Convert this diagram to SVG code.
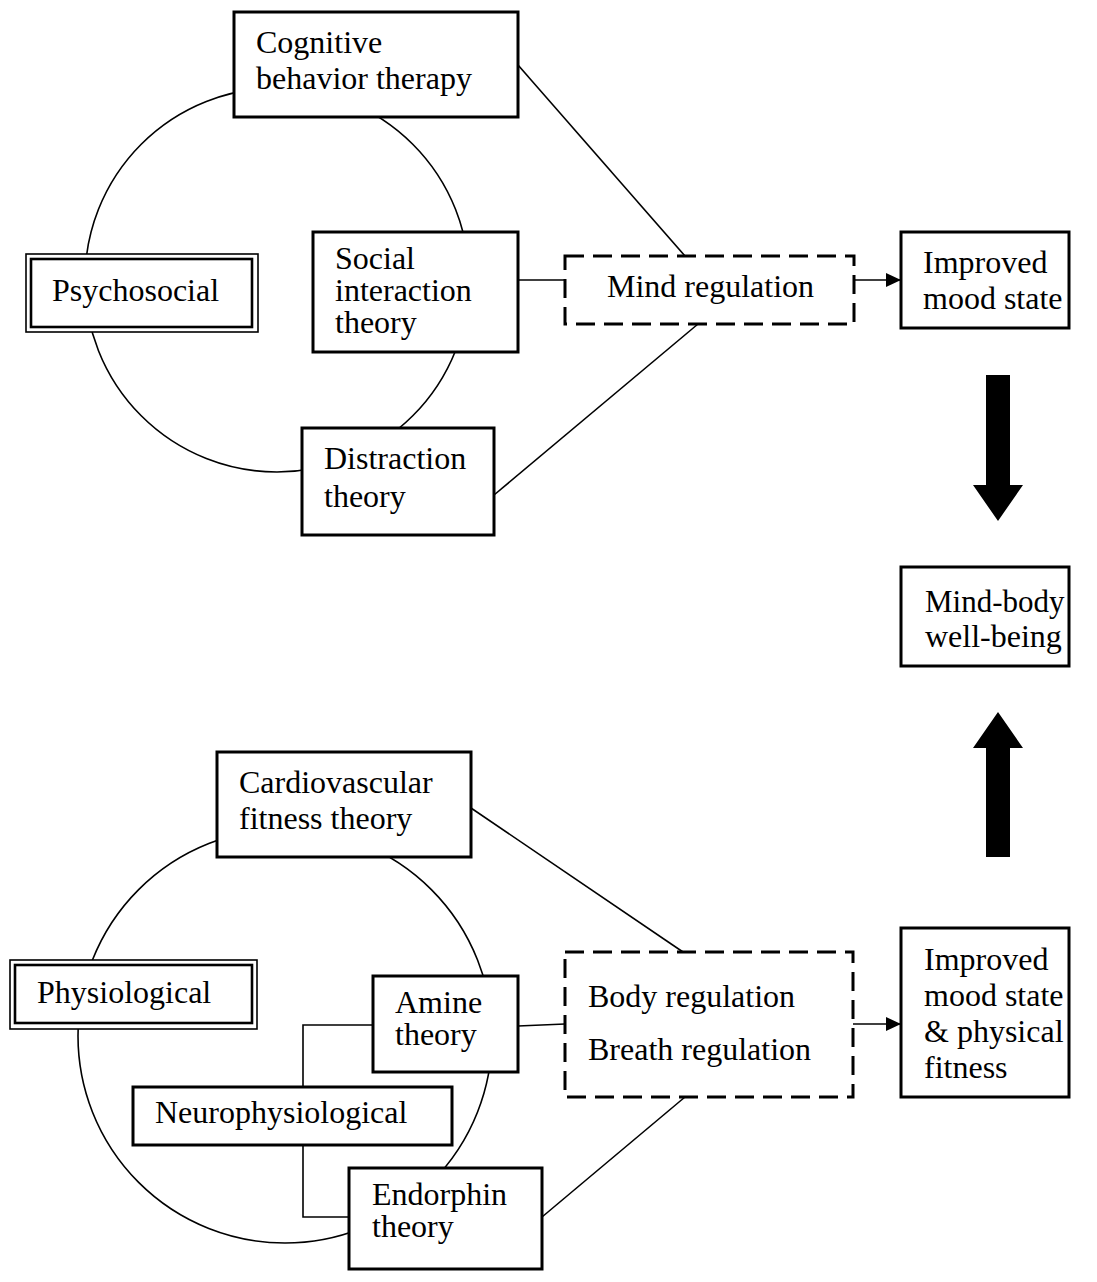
<svg xmlns="http://www.w3.org/2000/svg" width="1097" height="1282" viewBox="0 0 1097 1282">
<style>
text{font-family:"Liberation Serif","Times New Roman",serif;font-size:32px;fill:#000}
.box{fill:#fff;stroke:#000;stroke-width:3}
.dash{fill:#fff;stroke:#000;stroke-width:3;stroke-dasharray:19 9}
.ring{fill:none;stroke:#000;stroke-width:1.6}
.ln{fill:none;stroke:#000;stroke-width:1.6}
.outer{fill:#fff;stroke:#000;stroke-width:1.6}
.inner{fill:none;stroke:#000;stroke-width:2.6}
.fat{fill:#000}
</style>
<defs>
<marker id="ah" markerWidth="15" markerHeight="14" refX="15" refY="7" orient="auto" markerUnits="userSpaceOnUse">
<path d="M0,0 L15,7 L0,14 Z" fill="#000"/>
</marker>
</defs>
<g id="rings">
<circle class="ring" cx="277" cy="280" r="192"/>
<circle class="ring" cx="285" cy="1036" r="207"/>
</g>
<g id="connectors">
<line class="ln" x1="518" y1="65" x2="685" y2="256"/>
<line class="ln" x1="518" y1="280" x2="565" y2="280"/>
<line class="ln" x1="494" y1="495" x2="698" y2="324"/>
<line class="ln" x1="854" y1="280" x2="901" y2="280" marker-end="url(#ah)"/>
<line class="ln" x1="471" y1="808" x2="683" y2="952"/>
<line class="ln" x1="518" y1="1026" x2="565" y2="1024"/>
<line class="ln" x1="542" y1="1217" x2="685" y2="1097"/>
<line class="ln" x1="853" y1="1024" x2="901" y2="1024" marker-end="url(#ah)"/>
<polyline class="ln" points="373,1025 303,1025 303,1087"/>
<polyline class="ln" points="303,1145 303,1217 349,1217"/>
<path class="fat" d="M986,375 H1010 V485 H1023 L998,521 L973,485 H986 Z"/>
<path class="fat" d="M998,712 L1023,748 H1010 V857 H986 V748 H973 Z"/>
</g>
<g id="cognitive">
<rect class="box" x="234" y="12" width="284" height="105"/>
<text x="256" y="53">Cognitive</text>
<text x="256" y="89">behavior therapy</text>
</g>
<g id="psychosocial">
<rect class="outer" x="26" y="254" width="232" height="78"/>
<rect class="inner" x="31" y="259" width="221" height="68"/>
<text x="52" y="301">Psychosocial</text>
</g>
<g id="social">
<rect class="box" x="313" y="232" width="205" height="120"/>
<text x="335" y="269">Social</text>
<text x="335" y="301">interaction</text>
<text x="335" y="333">theory</text>
</g>
<g id="distraction">
<rect class="box" x="302" y="428" width="192" height="107"/>
<text x="324" y="469">Distraction</text>
<text x="324" y="507">theory</text>
</g>
<g id="mind-regulation">
<rect class="dash" x="565" y="256" width="289" height="68"/>
<text x="607" y="297">Mind regulation</text>
</g>
<g id="improved-mood">
<rect class="box" x="901" y="232" width="168" height="96"/>
<text x="923" y="273">Improved</text>
<text x="923" y="309">mood state</text>
</g>
<g id="mind-body">
<rect class="box" x="901" y="567" width="168" height="99"/>
<text x="925" y="612" style="font-size:31px">Mind-body</text>
<text x="925" y="647">well-being</text>
</g>
<g id="cardiovascular">
<rect class="box" x="217" y="752" width="254" height="105"/>
<text x="239" y="793">Cardiovascular</text>
<text x="239" y="829">fitness theory</text>
</g>
<g id="physiological">
<rect class="outer" x="10" y="960" width="247" height="69"/>
<rect class="inner" x="15" y="965" width="237" height="58"/>
<text x="37" y="1003">Physiological</text>
</g>
<g id="amine">
<rect class="box" x="373" y="976" width="145" height="96"/>
<text x="395" y="1013">Amine</text>
<text x="395" y="1045">theory</text>
</g>
<g id="neurophysiological">
<rect class="box" x="133" y="1087" width="319" height="58"/>
<text x="155" y="1123">Neurophysiological</text>
</g>
<g id="endorphin">
<rect class="box" x="349" y="1168" width="193" height="101"/>
<text x="372" y="1205">Endorphin</text>
<text x="372" y="1237">theory</text>
</g>
<g id="body-breath-regulation">
<rect class="dash" x="565" y="952" width="288" height="145"/>
<text x="588" y="1007">Body regulation</text>
<text x="588" y="1060">Breath regulation</text>
</g>
<g id="improved-mood-fitness">
<rect class="box" x="901" y="928" width="168" height="169"/>
<text x="924" y="970">Improved</text>
<text x="924" y="1006">mood state</text>
<text x="924" y="1042">&amp; physical</text>
<text x="924" y="1078">fitness</text>
</g>
</svg>
